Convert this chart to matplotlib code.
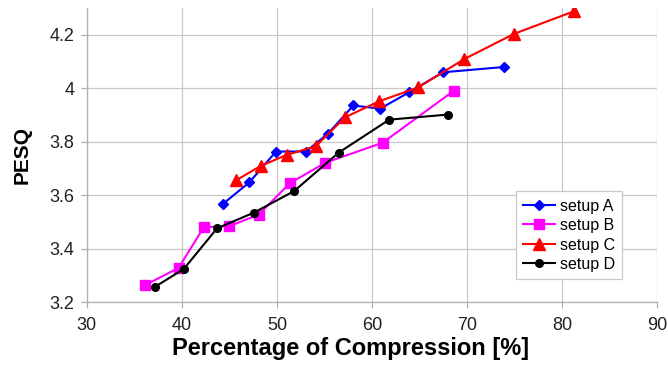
import matplotlib
matplotlib.use("Agg")
import matplotlib.pyplot as plt

# Data
a_x = [44.35, 47.1, 49.9, 53.05, 55.37, 58.03, 60.84, 63.93, 67.44, 73.9]
a_y = [3.568, 3.648, 3.763, 3.763, 3.830, 3.935, 3.923, 3.985, 4.059, 4.079]

b_x = [36.1, 39.65, 42.3, 44.98, 48.07, 51.37, 55.09, 61.12, 68.63]
b_y = [3.263, 3.328, 3.480, 3.484, 3.527, 3.645, 3.721, 3.796, 3.991]

c_x = [45.68, 48.28, 51.0, 54.1, 57.16, 60.77, 64.88, 69.72, 74.95, 81.23]
c_y = [3.655, 3.709, 3.750, 3.783, 3.891, 3.951, 4.003, 4.109, 4.203, 4.287]

d_x = [37.16, 40.2, 43.7, 47.6, 51.8, 56.5, 61.8, 67.97]
d_y = [3.257, 3.324, 3.476, 3.535, 3.615, 3.759, 3.882, 3.901]

x_ticks = [30, 40, 50, 60, 70, 80, 90]
y_ticks = [3.2, 3.4, 3.6, 3.8, 4.0, 4.2]
y_tick_labels = ["3.2", "3.4", "3.6", "3.8", "4", "4.2"]

plt.rcParams['font.family'] = ['Liberation Sans', 'DejaVu Sans']

fig = plt.figure(figsize=(6.68, 3.73), dpi=100)
ax = fig.add_axes([0.130, 0.190, 0.854, 0.789])

ax.plot(a_x, a_y, color='#0000ff', marker='D', markersize=5.5, lw=1.5, label='setup A')
ax.plot(b_x, b_y, color='#ff00ff', marker='s', markersize=7, lw=1.5, label='setup B')
ax.plot(c_x, c_y, color='#ff0000', marker='^', markersize=8, lw=1.5, label='setup C')
ax.plot(d_x, d_y, color='#000000', marker='o', markersize=5.5, lw=1.5, label='setup D')

ax.set_xlim(30, 90)
ax.set_ylim(3.2, 4.3)
ax.set_xticks(x_ticks)
ax.set_yticks(y_ticks)
ax.set_yticklabels(y_tick_labels)
ax.grid(True, color='#c8c8c8', lw=0.9)
ax.set_axisbelow(True)

for s in ['top', 'right']:
    ax.spines[s].set_visible(False)
for s in ['left', 'bottom']:
    ax.spines[s].set_color('#b0b0b0')
    ax.spines[s].set_linewidth(0.9)
ax.tick_params(axis='both', colors='#b0b0b0', labelcolor='#222222', labelsize=13,
               length=4, width=0.9)
ax.tick_params(axis='x', pad=7)
ax.tick_params(axis='y', pad=5)

ax.set_xlabel('Percentage of Compression [%]', fontsize=17, fontweight='bold', labelpad=2)
ax.xaxis.label.set_x(0.463)
ax.set_ylabel('PESQ', fontsize=15, fontweight='bold', labelpad=13)

leg = ax.legend(loc='lower right', bbox_to_anchor=(0.9386, 0.078), borderaxespad=0,
                fontsize=11.5, frameon=True, fancybox=False, handlelength=2.0,
                handletextpad=0.3, borderpad=0.45, labelspacing=0.28, framealpha=1)
leg.get_frame().set_edgecolor('#c8c8c8')
leg.get_frame().set_linewidth(0.9)

fig.savefig('out.png', dpi=100)
